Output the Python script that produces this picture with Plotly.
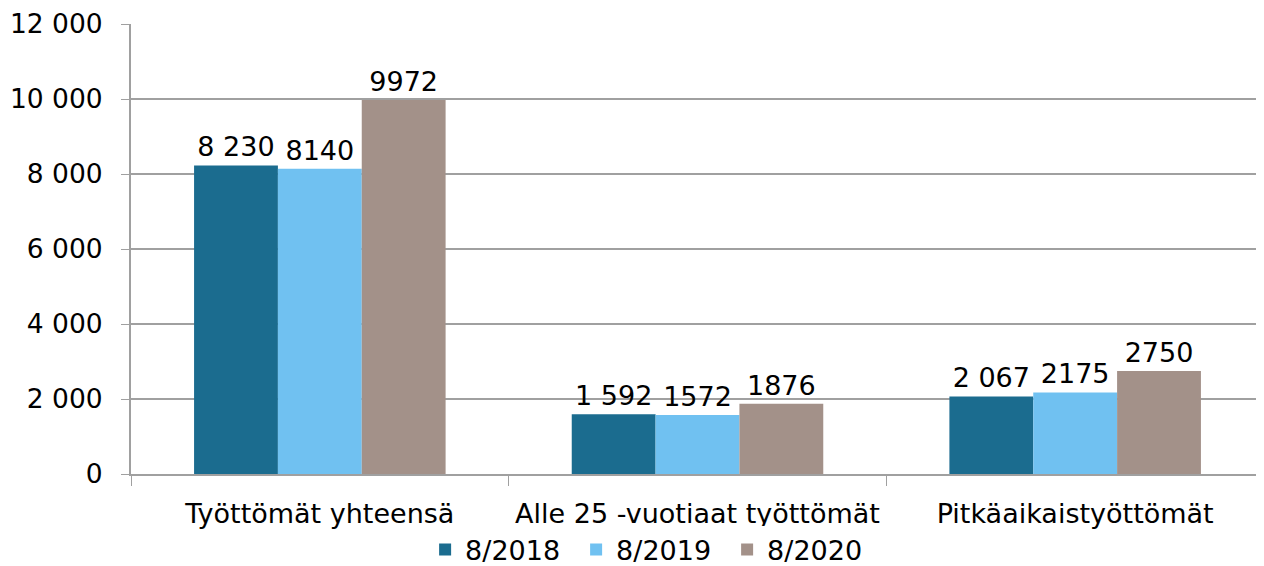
import plotly.graph_objects as go

categories = ["Työttömät yhteensä", "Alle 25 -vuotiaat työttömät", "Pitkäaikaistyöttömät"]
series_names = ["8/2018", "8/2019", "8/2020"]
values_2018 = [8230, 1592, 2067]
values_2019 = [8140, 1572, 2175]
values_2020 = [9972, 1876, 2750]
colors = ["#1b6c8f", "#70c1f1", "#a39189"]

def fmt_space(v):
    return f"{v:,}".replace(",", " ")

def fmt_plain(v):
    return str(v)

series = [
    (series_names[0], values_2018, [fmt_space(v) for v in values_2018]),
    (series_names[1], values_2019, [fmt_plain(v) for v in values_2019]),
    (series_names[2], values_2020, [fmt_plain(v) for v in values_2020]),
]

FONT = "DejaVu Sans, Verdana, sans-serif"

fig = go.Figure()
for (name, vals, txt), col in zip(series, colors):
    fig.add_trace(go.Bar(
        x=categories, y=vals, name=name,
        marker=dict(color=col, line=dict(width=0)),
        text=txt, textposition="outside", cliponaxis=False,
        textfont=dict(size=27, color="#000000", family=FONT),
    ))

fig.update_layout(
    width=1256, height=558,
    margin=dict(l=123, r=0, t=16, b=92, autoexpand=False),
    paper_bgcolor="white", plot_bgcolor="white",
    barmode="group", bargap=0.334, bargroupgap=0,
    separators=", ",
    font=dict(family=FONT, size=27, color="#000000"),
    showlegend=True,
    legend=dict(orientation="h", x=0.4595, xanchor="center", xref="paper",
                y=-0.169, yanchor="middle", font=dict(size=27),
                itemwidth=30, entrywidth=106, entrywidthmode="pixels",
                traceorder="normal"),
    uniformtext=dict(mode=False),
)
fig.update_xaxes(
    showline=True, linecolor="#a0a0a0", linewidth=2, automargin=False,
    ticks="outside", tickson="boundaries", ticklen=10, tickcolor="#a0a0a0", tickwidth=1,
    tickfont=dict(size=27), tickangle=0, showgrid=False, ticklabelstandoff=15,
)
fig.update_yaxes(
    range=[0, 12000], dtick=2000, tickformat=",d", automargin=False,
    showgrid=True, gridcolor="#a0a0a0", gridwidth=2,
    showline=True, linecolor="#a0a0a0", linewidth=2,
    ticks="outside", ticklen=8, tickcolor="#a0a0a0", tickwidth=1,
    tickfont=dict(size=26.5), zeroline=False, ticklabelstandoff=13,
)

fig.write_html("out.html")
